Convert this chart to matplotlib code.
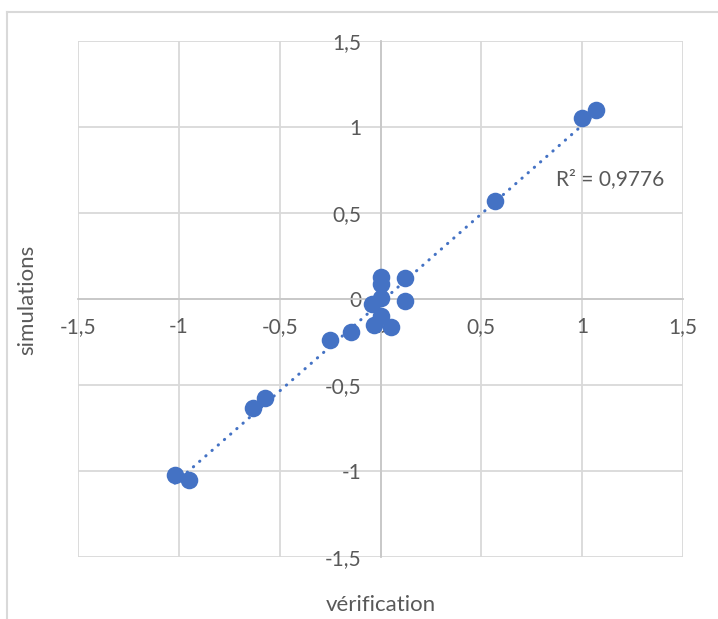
import numpy as np
import matplotlib.pyplot as plt
from matplotlib.lines import Line2D

# values
verification = [1.07, 1.00, 0.57, 0.12, 0.0, 0.0, 0.12, 0.0, -0.04, 0.0,
                -0.03, 0.05, -0.145, -0.25, -0.575, -0.63, -1.02, -0.95]
simulations = [1.10, 1.055, 0.57, 0.12, 0.13, 0.09, -0.01, 0.005, -0.03, -0.10,
               -0.15, -0.16, -0.19, -0.24, -0.575, -0.635, -1.025, -1.05]
ticks = [-1.5, -1, -0.5, 0, 0.5, 1, 1.5]
tick_labels = ["-1,5", "-1", "-0,5", "0", "0,5", "1", "1,5"]
r2_text = "R² = 0,9776"

blue = "#4472C4"
grey_txt = "#595959"
grid_col = "#d9d9d9"

plt.rcParams['font.family'] = ['Lato', 'DejaVu Sans']

fig = plt.figure(figsize=(7.18, 6.19), dpi=100)
ax = fig.add_axes([78/718, 1 - 557/619, (683-78)/718, (557-41)/619])

# outer chart frame (only top and left visible)
fig.add_artist(Line2D([7/718, 7/718], [0, 1 - 12/619], color=grid_col, lw=1.5))
fig.add_artist(Line2D([7/718, 1], [1 - 12/619, 1 - 12/619], color=grid_col, lw=1.5))

ax.scatter(verification, simulations, s=160, color=blue, zorder=3, linewidths=0)

# linear trendline
x = np.array(verification)
y = np.array(simulations)
a, b = np.polyfit(x, y, 1)
xs = np.array([x.min(), x.max()])
ax.plot(xs, a * xs + b, color=blue, lw=2.2, linestyle=(0, (0.1, 2.6)),
        dash_capstyle='round', zorder=4)

ax.text(0.87, 0.70, r2_text, fontsize=15, color=grey_txt, va='center', ha='left')

ax.set_xlim(-1.5, 1.5)
ax.set_ylim(-1.5, 1.5)
ax.set_xticks(ticks)
ax.set_yticks(ticks)
ax.set_xticklabels(tick_labels)
ax.set_yticklabels(tick_labels)
ax.grid(True, color=grid_col, lw=1.3)
ax.set_axisbelow(True)

ax.spines['left'].set_position(('data', 0))
ax.spines['bottom'].set_position(('data', 0))
ax.spines['right'].set_visible(False)
ax.spines['top'].set_visible(False)
for s in ['left', 'bottom']:
    ax.spines[s].set_color('#c8c8c8')
    ax.spines[s].set_linewidth(1.3)
ax.tick_params(length=0, labelsize=15, labelcolor=grey_txt)
ax.tick_params(axis='x', pad=13)
ax.tick_params(axis='y', pad=14)

fig.text(381/718, 1 - 605/619, "vérification", ha='center', va='center',
         fontsize=16, color=grey_txt)
fig.text(27/718, 1 - 300/619, "simulations", ha='center', va='center',
         rotation=90, fontsize=16, color=grey_txt)

fig.savefig("out.png", dpi=100)
